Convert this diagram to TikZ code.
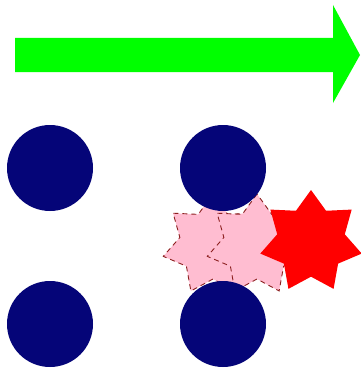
\documentclass[tikz,border=0pt]{standalone}
\usetikzlibrary{shapes.geometric}
\definecolor{navyblue}{rgb}{0.02,0.02,0.47}
\definecolor{lgreen}{rgb}{0,1,0}
\definecolor{lpink}{rgb}{1,0.74,0.82}
\definecolor{dred}{rgb}{0.55,0.12,0.12}
\tikzset{
  dot/.style={circle,fill=navyblue,draw=none,minimum size=86pt,inner sep=0pt},
  ghost/.style={star,star points=7,star point ratio=1.5,fill=lpink,draw=dred,dash pattern=on 5pt off 4pt,line width=0.9pt,minimum size=102pt,inner sep=0pt},
  hotstar/.style={star,star points=7,star point ratio=1.5,fill=red,draw=none,minimum size=104pt,inner sep=0pt}
}
\begin{document}
\begin{tikzpicture}[x=1pt,y=-1pt]
\useasboundingbox (0,0) rectangle (360,369);
\fill[white] (0,0) rectangle (360,369);
% arrow
\fill[lgreen] (15,38) -- (333,38) -- (333,5) -- (360,55) -- (333,103) -- (333,72) -- (15,72) -- cycle;
% stars
\node[ghost] (g1) at (213,245) {};
\node[ghost] (g2) at (257,245) {};
\node[hotstar] (s) at (311,242) {};
% circles
\node[dot] (c1) at (50,168) {};
\node[dot] (c2) at (223,168) {};
\node[dot] (c3) at (50,324) {};
\node[dot] (c4) at (223,324) {};
\end{tikzpicture}
\end{document}
